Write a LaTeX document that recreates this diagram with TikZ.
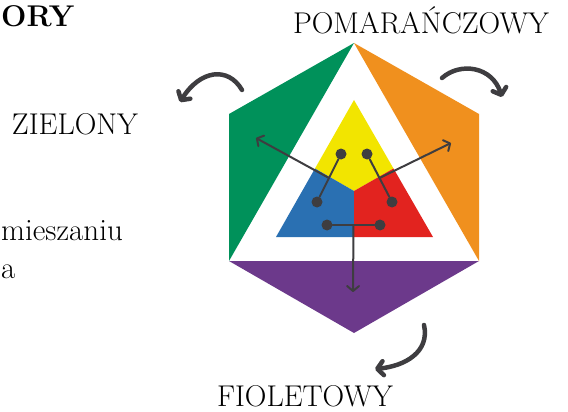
\documentclass[tikz,border=0pt]{standalone}
\usepackage{fontspec}
\usepackage{tikz}
\usetikzlibrary{arrows.meta,calc}
\definecolor{zielony}{HTML}{00915A}
\definecolor{pomar}{HTML}{F0901E}
\definecolor{fiolet}{HTML}{6C398B}
\definecolor{zolty}{HTML}{F2E500}
\definecolor{niebieski}{HTML}{2A70B2}
\definecolor{czerwony}{HTML}{E2231F}
\definecolor{grafit}{HTML}{3E3D40}

\begin{document}
\begin{tikzpicture}[x=1pt,y=-1pt,
  dot/.style={circle,fill=grafit,inner sep=0pt,minimum size=11pt},
  link/.style={grafit,line width=2pt,line cap=round},
  ptr/.style={link,-{Straight Barb[length=5pt,width=12pt,line cap=round,line join=round]}},
  turn/.style={grafit,line width=4.5pt,line cap=round,-{Straight Barb[length=6pt,width=14pt,line cap=round,line join=round]}},
  lbl/.style={font=\fontsize{30}{34}\selectfont,inner sep=0pt}]
\useasboundingbox (0,0) rectangle (568,412);
% hexagon corners
\coordinate (top) at (354,43);
\coordinate (ul) at (229,114);
\coordinate (ll) at (229,261);
\coordinate (bot) at (354,333);
\coordinate (lr) at (479,261);
\coordinate (ur) at (479,114);
\fill[zielony] (top) -- (ul) -- (ll) -- cycle;
\fill[pomar] (top) -- (ur) -- (lr) -- cycle;
\fill[fiolet] (ll) -- (bot) -- (lr) -- cycle;
% inner triangle
\coordinate (itop) at (354,100);
\coordinate (ileft) at (276,237);
\coordinate (iright) at (433,237);
\coordinate (imid) at (354,191);
\fill[zolty] (itop) -- ($(itop)!0.5!(ileft)$) -- (imid) -- ($(itop)!0.5!(iright)$) -- cycle;
\fill[niebieski] ($(itop)!0.5!(ileft)$) -- (ileft) -- (354,237) -- (imid) -- cycle;
\fill[czerwony] ($(itop)!0.5!(iright)$) -- (iright) -- (354,237) -- (imid) -- cycle;
% dots
\node[dot] (y1) at (341,154) {};
\node[dot] (y2) at (367,154) {};
\node[dot] (b1) at (317,202) {};
\node[dot] (r1) at (392,202) {};
\node[dot] (b2) at (327,225) {};
\node[dot] (r2) at (380,225) {};
\draw[link] (y1) -- (b1);
\draw[link] (y2) -- (r1);
\draw[link] (b2) -- (r2);
\coordinate (gmix) at ($(y1)!0.5!(b1)$);
\coordinate (omix) at ($(y2)!0.5!(r1)$);
\coordinate (fmix) at ($(b2)!0.5!(r2)$);
\coordinate (gend) at (256,138);
\coordinate (oend) at (451,143);
\coordinate (fend) at (353,292);
\draw[ptr] (gmix) -- (gend);
\draw[ptr] (omix) -- (oend);
\draw[ptr] (fmix) -- (fend);
% labels
\node[lbl,anchor=base] (pom) at (421,34) {POMARAŃCZOWY};
\node[lbl,anchor=base] (ziel) at (75,134) {ZIELONY};
\node[lbl,anchor=base] (fiol) at (305,406) {FIOLETOWY};
\node[lbl,font=\fontsize{30}{34}\selectfont\bfseries,anchor=base west] (kol) at (1,27) {ORY};
\node[lbl,font=\fontsize{31}{34}\selectfont,anchor=base west] (mies) at (1,240) {mieszaniu};
\node[lbl,font=\fontsize{31}{34}\selectfont,anchor=base west] (aa) at (1,278) {a};
% curved arrows
\coordinate (zs) at (242,90);
\coordinate (ze) at (180,102);
\coordinate (ps) at (442,78);
\coordinate (pe) at (502,97);
\coordinate (fs) at (424,325);
\coordinate (fe) at (375,369);
\draw[turn] (zs) .. controls (228,66) and (200,70) .. (ze);
\draw[turn] (ps) .. controls (460,62) and (492,66) .. (pe);
\draw[turn] (fs) .. controls (430,352) and (405,366) .. (fe);
\end{tikzpicture}
\end{document}
